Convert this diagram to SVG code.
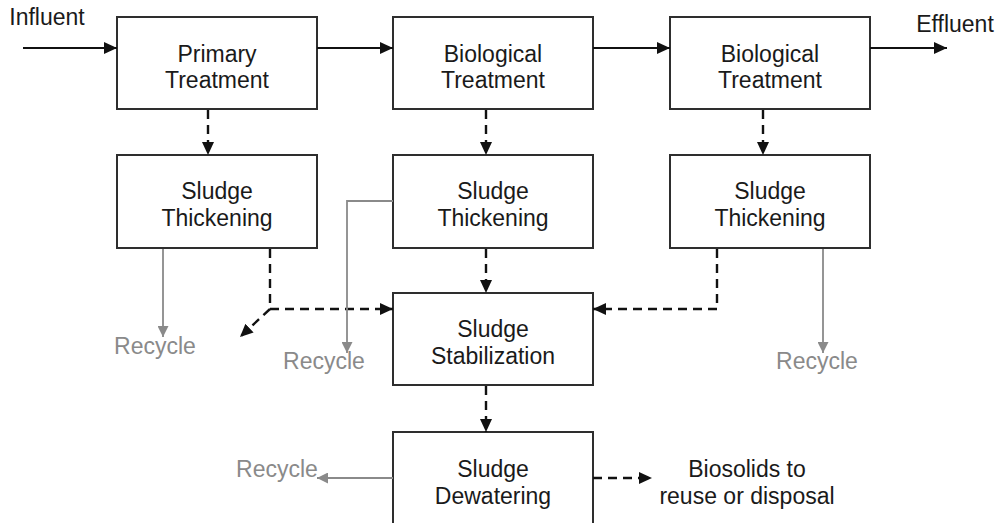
<svg xmlns="http://www.w3.org/2000/svg" width="1000" height="523" viewBox="0 0 1000 523">
  <style>
    .box { fill: #ffffff; stroke: #2e2e2e; stroke-width: 2; }
    .lbl { font-family: "Liberation Sans", Arial, sans-serif; font-size: 23px; fill: #1a1a1a; text-anchor: middle; }
    .gray { fill: #8a8a8a; }
    .flow { fill: none; stroke: #111111; stroke-width: 2; }
    .dash { fill: none; stroke: #111111; stroke-width: 2.4; stroke-dasharray: 9 6; }
    .recyc { fill: none; stroke: #8a8a8a; stroke-width: 1.8; }
  </style>
  <defs>
    <marker id="arrow" markerUnits="userSpaceOnUse" markerWidth="14" markerHeight="12" refX="13" refY="6" orient="auto">
      <path d="M0,0 L13,6 L0,12 z" fill="#111111"/>
    </marker>
    <marker id="arrowGray" markerUnits="userSpaceOnUse" markerWidth="12" markerHeight="11" refX="11" refY="5.5" orient="auto">
      <path d="M0,0 L11,5.5 L0,11 z" fill="#8a8a8a"/>
    </marker>
  </defs>

  <rect width="1000" height="523" fill="#ffffff"/>

  <!-- free labels -->
  <text class="lbl" x="47" y="25">Influent</text>
  <text class="lbl" x="955" y="32">Effluent</text>
  <text class="lbl gray" x="155" y="354">Recycle</text>
  <text class="lbl gray" x="324" y="369">Recycle</text>
  <text class="lbl gray" x="817" y="369">Recycle</text>
  <text class="lbl gray" x="277" y="477">Recycle</text>
  <text class="lbl" x="747" y="477">Biosolids to</text>
  <text class="lbl" x="747" y="504">reuse or disposal</text>

  <!-- process units -->
  <g id="primary">
    <rect class="box" x="117" y="17" width="200" height="92"/>
    <text class="lbl" x="217" y="62">Primary</text>
    <text class="lbl" x="217" y="88">Treatment</text>
  </g>
  <g id="bio1">
    <rect class="box" x="393" y="17" width="200" height="92"/>
    <text class="lbl" x="493" y="62">Biological</text>
    <text class="lbl" x="493" y="88">Treatment</text>
  </g>
  <g id="bio2">
    <rect class="box" x="670" y="17" width="200" height="92"/>
    <text class="lbl" x="770" y="62">Biological</text>
    <text class="lbl" x="770" y="88">Treatment</text>
  </g>
  <g id="thick1">
    <rect class="box" x="117" y="155" width="200" height="93"/>
    <text class="lbl" x="217" y="199">Sludge</text>
    <text class="lbl" x="217" y="226">Thickening</text>
  </g>
  <g id="thick2">
    <rect class="box" x="393" y="155" width="200" height="93"/>
    <text class="lbl" x="493" y="199">Sludge</text>
    <text class="lbl" x="493" y="226">Thickening</text>
  </g>
  <g id="thick3">
    <rect class="box" x="670" y="155" width="200" height="93"/>
    <text class="lbl" x="770" y="199">Sludge</text>
    <text class="lbl" x="770" y="226">Thickening</text>
  </g>
  <g id="stabilization">
    <rect class="box" x="393" y="293" width="200" height="92"/>
    <text class="lbl" x="493" y="337">Sludge</text>
    <text class="lbl" x="493" y="364">Stabilization</text>
  </g>
  <g id="dewatering">
    <rect class="box" x="393" y="432" width="200" height="110"/>
    <text class="lbl" x="493" y="477">Sludge</text>
    <text class="lbl" x="493" y="504">Dewatering</text>
  </g>

  <!-- connectors -->
  <g id="connectors">
    <!-- liquid stream -->
    <line class="flow" x1="23" y1="48" x2="117" y2="48" marker-end="url(#arrow)"/>
    <line class="flow" x1="317" y1="48" x2="393" y2="48" marker-end="url(#arrow)"/>
    <line class="flow" x1="593" y1="48" x2="670" y2="48" marker-end="url(#arrow)"/>
    <line class="flow" x1="870" y1="48" x2="947" y2="48" marker-end="url(#arrow)"/>

    <!-- sludge stream -->
    <line class="dash" x1="208" y1="110" x2="208" y2="155" marker-end="url(#arrow)"/>
    <line class="dash" x1="486" y1="110" x2="486" y2="155" marker-end="url(#arrow)"/>
    <line class="dash" x1="763" y1="110" x2="763" y2="155" marker-end="url(#arrow)"/>
    <line class="dash" x1="486" y1="249" x2="486" y2="293" marker-end="url(#arrow)"/>
    <line class="dash" x1="486" y1="386" x2="486" y2="432" marker-end="url(#arrow)"/>
    <polyline class="dash" points="270,249 270,309 393,309" marker-end="url(#arrow)"/>
    <line class="dash" x1="270" y1="309" x2="240" y2="337" marker-end="url(#arrow)"/>
    <polyline class="dash" points="717,249 717,309 593,309" marker-end="url(#arrow)"/>
    <line class="dash" x1="593" y1="478" x2="652" y2="478" marker-end="url(#arrow)"/>

    <!-- recycle streams -->
    <line class="recyc" x1="163" y1="249" x2="163" y2="337" marker-end="url(#arrowGray)"/>
    <polyline class="recyc" points="393,201 347,201 347,353" marker-end="url(#arrowGray)"/>
    <line class="recyc" x1="823" y1="249" x2="823" y2="353" marker-end="url(#arrowGray)"/>
    <line class="recyc" x1="393" y1="478" x2="317" y2="478" marker-end="url(#arrowGray)"/>
  </g>
</svg>
